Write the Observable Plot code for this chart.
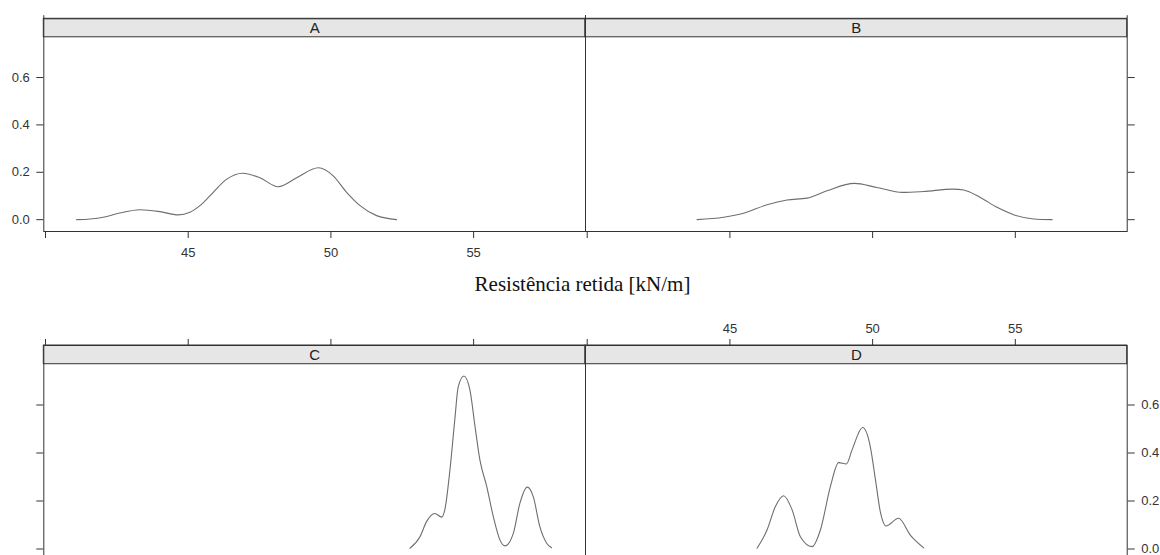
<!DOCTYPE html>
<html>
<head>
<meta charset="utf-8">
<script src="https://cdn.jsdelivr.net/npm/d3@7"></script>
<script src="https://cdn.jsdelivr.net/npm/@observablehq/plot@0.6"></script>
<style>
  body { margin: 0; background: #fff; }
  #wrap { position: relative; width: 1160px; height: 555px; overflow: hidden; background: #fff; }
  #wrap > svg { position: absolute; }
  #xtitle { position: absolute; left: 0; width: 1165px; text-align: center; font-family: "Liberation Serif", "Times New Roman", serif; font-size: 21px; line-height: 21px; color: #111; white-space: nowrap; }
</style>
</head>
<body>
<div id="wrap"></div>
<script>
// ---- data ----
const panelNames = ["A", "B", "C", "D"];
const xTicks = [40, 45, 50, 55];
const xTickLabels = [45, 50, 55];
const yTicks = [0, 0.2, 0.4, 0.6];
const xTitle = "Resistência retida [kN/m]";

const xA = [41.09, 41.56, 42.02, 42.60, 43.31, 44.00, 44.65, 45.06, 45.41, 45.76, 46.35, 46.90, 47.51, 48.15, 48.80, 49.56, 50.08, 50.55, 51.02, 51.60, 52.30];
const densA = [0.000, 0.003, 0.010, 0.028, 0.042, 0.034, 0.020, 0.031, 0.059, 0.100, 0.171, 0.196, 0.177, 0.139, 0.177, 0.219, 0.185, 0.115, 0.059, 0.017, 0.000];

const xB = [43.85, 44.78, 45.48, 46.30, 47.00, 47.70, 48.40, 49.36, 50.15, 51.05, 51.79, 52.82, 53.19, 53.77, 54.36, 54.94, 55.64, 56.29];
const densB = [0.000, 0.010, 0.027, 0.063, 0.083, 0.091, 0.122, 0.153, 0.136, 0.115, 0.119, 0.129, 0.125, 0.094, 0.052, 0.021, 0.003, 0.000];

const xC = [52.77, 53.12, 53.35, 53.64, 53.88, 53.99, 54.17, 54.34, 54.46, 54.66, 54.87, 55.05, 55.22, 55.46, 55.69, 55.92, 56.10, 56.39, 56.62, 56.88, 57.09, 57.32, 57.56, 57.73];
const densC = [0.003, 0.051, 0.114, 0.148, 0.133, 0.163, 0.329, 0.538, 0.676, 0.721, 0.663, 0.510, 0.371, 0.260, 0.135, 0.038, 0.013, 0.065, 0.190, 0.258, 0.218, 0.093, 0.024, 0.005];

const xD = [45.95, 46.30, 46.59, 46.88, 47.18, 47.47, 47.88, 48.17, 48.52, 48.81, 49.08, 49.28, 49.65, 49.92, 50.10, 50.28, 50.47, 50.91, 51.32, 51.79];
const densD = [0.003, 0.079, 0.176, 0.222, 0.163, 0.051, 0.010, 0.079, 0.260, 0.360, 0.354, 0.413, 0.506, 0.426, 0.288, 0.149, 0.096, 0.128, 0.058, 0.005];

const curves = { A: [xA, densA], B: [xB, densB], C: [xC, densC], D: [xD, densD] };

// ---- layout / style ----
const X_DOMAIN = [39.94, 58.92];
const Y_DOMAIN = [-0.05, 0.848];
const STRIP_Y = [0.77, 0.848];
const INK = "#333";

const layout = {
  A: { left: 0,   top: 0,   width: 600, height: 260, ml: 43.3, mr: 15,   mt: 18.3, mb: 29,  xAxis: "bottom", xLabels: true,  yAxis: "left",  yLabels: true,  edge: true },
  B: { left: 570, top: 0,   width: 590, height: 260, ml: 15,   mr: 33.3, mt: 18.3, mb: 29,  xAxis: "bottom", xLabels: false, yAxis: "right", yLabels: false, edge: true },
  C: { left: 0,   top: 300, width: 600, height: 270, ml: 43.3, mr: 15,   mt: 45,   mb: 9.5, xAxis: "top",    xLabels: false, yAxis: "left",  yLabels: false, edge: false },
  D: { left: 570, top: 300, width: 590, height: 270, ml: 15,   mr: 33.3, mt: 45,   mb: 9.5, xAxis: "top",    xLabels: true,  yAxis: "right", yLabels: true,  edge: false }
};

const wrap = document.getElementById("wrap");
const fmtY = d3.format(".1f");

for (const name of panelNames) {
  const L = layout[name];
  const [xs, ys] = curves[name];
  const pts = xs.map((x, i) => ({ x, y: ys[i] }));
  const marks = [
    Plot.rect([{ x1: X_DOMAIN[0], x2: X_DOMAIN[1], y1: STRIP_Y[0], y2: STRIP_Y[1] }],
      { x1: "x1", x2: "x2", y1: "y1", y2: "y2", fill: "#e6e6e6", stroke: INK, strokeWidth: 1 }),
    Plot.text([{ x: (X_DOMAIN[0] + X_DOMAIN[1]) / 2, y: (STRIP_Y[0] + STRIP_Y[1]) / 2, t: name }],
      { x: "x", y: "y", text: "t", fontSize: 15, fill: "#222" }),
    Plot.frame({ stroke: INK, strokeWidth: 1 }),
    Plot.line(pts, { x: "x", y: "y", stroke: "#6e6e6e", strokeWidth: 1.1, curve: "monotone-x" }),
    Plot.axisX(xTicks, {
      anchor: L.xAxis, tickSize: 7, tickPadding: L.xAxis === "bottom" ? 9 : 6, fontSize: 13, label: null,
      tickFormat: d => (L.xLabels && xTickLabels.includes(d)) ? String(d) : ""
    }),
    Plot.axisY(yTicks, {
      anchor: L.yAxis, tickSize: 7, tickPadding: 7, fontSize: 13, label: null,
      tickFormat: d => L.yLabels ? fmtY(d) : ""
    })
  ];
  if (L.edge) {
    marks.push(Plot.ruleX(X_DOMAIN, { y1: STRIP_Y[1], y2: STRIP_Y[1] + 0.013, stroke: INK }));
  }
  const svg = Plot.plot({
    width: L.width, height: L.height,
    marginLeft: L.ml, marginRight: L.mr, marginTop: L.mt, marginBottom: L.mb,
    x: { domain: X_DOMAIN },
    y: { domain: Y_DOMAIN },
    style: { background: "transparent", color: INK, fontFamily: "'Liberation Sans', Arial, sans-serif", overflow: "visible" },
    marks
  });
  svg.style.left = L.left + "px";
  svg.style.top = L.top + "px";
  wrap.appendChild(svg);
}

const title = document.createElement("div");
title.id = "xtitle";
title.textContent = xTitle;
title.style.top = "274px";
wrap.appendChild(title);
</script>
</body>
</html>
